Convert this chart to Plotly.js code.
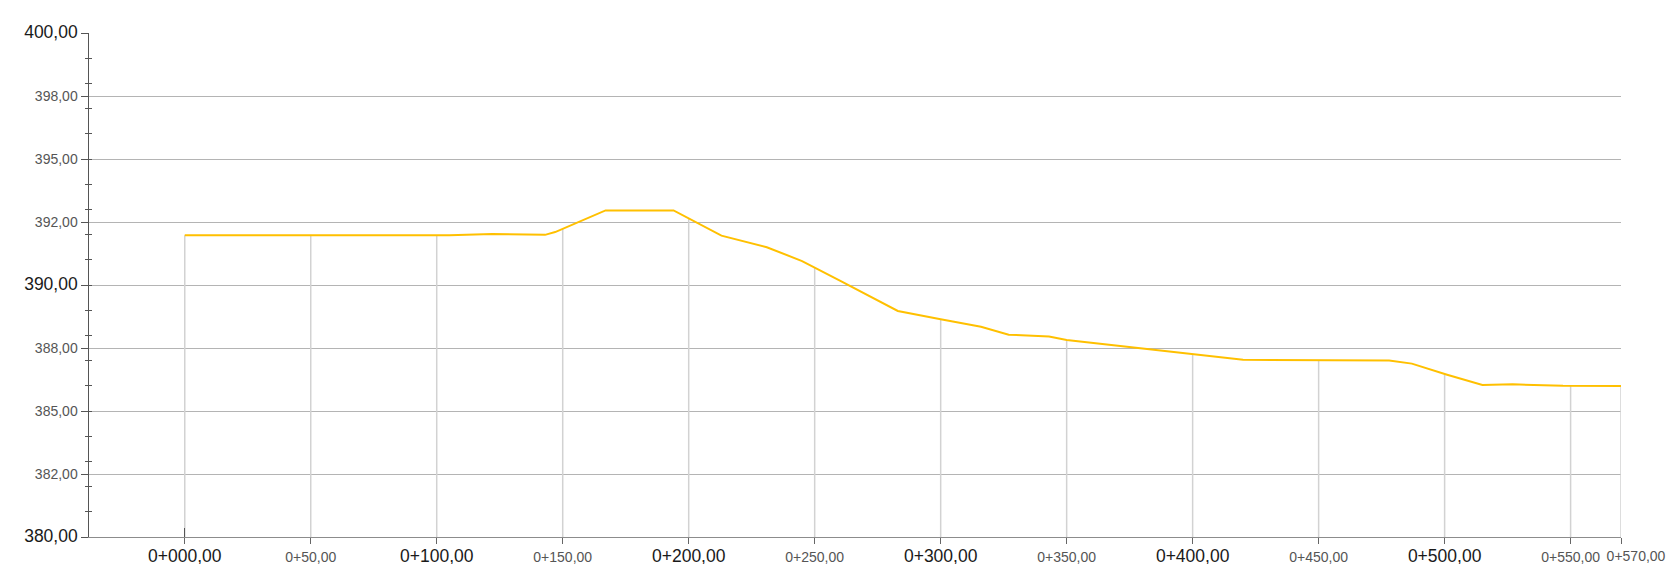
<!DOCTYPE html>
<html>
<head>
<meta charset="utf-8">
<script src="https://cdn.plot.ly/plotly-3.0.1.min.js"></script>
<style>
html,body{margin:0;padding:0;background:#fff;}
#chart{width:1672px;height:564px;}
</style>
</head>
<body>
<div id="chart"></div>
<script>
// Profile: station (m) and elevation (m)
const stations = [0, 105, 122, 143, 147, 167, 194, 213, 231, 245, 260, 283, 300, 316, 327, 343, 350, 379, 400, 420, 478, 487, 501, 515, 527, 547, 570];
const elevations = [391.97, 391.97, 392.02, 391.99, 392.1, 392.96, 392.96, 391.96, 391.5, 390.95, 390.17, 388.97, 388.64, 388.34, 388.03, 387.96, 387.82, 387.5, 387.25, 387.03, 387.0, 386.88, 386.44, 386.03, 386.06, 386.0, 385.99];

// X ticks (chainage)
const xTickVals = [0, 50, 100, 150, 200, 250, 300, 350, 400, 450, 500, 550, 570];
const xTickLabels = ['0+000,00', '0+50,00', '0+100,00', '0+150,00', '0+200,00', '0+250,00', '0+300,00', '0+350,00', '0+400,00', '0+450,00', '0+500,00', '0+550,00', '0+570,00'];
const xMajor = [0, 100, 200, 300, 400, 500];

// Y ticks
const yTickVals = [380, 382.5, 385, 387.5, 390, 392.5, 395, 397.5, 400];
const yTickLabels = ['380,00', '382,00', '385,00', '388,00', '390,00', '392,00', '395,00', '398,00', '400,00'];
const yMajor = [380, 390, 400];

function interp(x) {
  for (let i = 0; i < stations.length - 1; i++) {
    if (x >= stations[i] && x <= stations[i + 1]) {
      const t = (x - stations[i]) / (stations[i + 1] - stations[i]);
      return elevations[i] + t * (elevations[i + 1] - elevations[i]);
    }
  }
  return elevations[elevations.length - 1];
}

const lastVal = xTickVals[xTickVals.length - 1];
const lastLabel = xTickLabels[xTickLabels.length - 1];
// small labels on the main axis (major and end labels drawn by overlay axes)
const xSmallText = xTickVals.map((v, i) => (xMajor.includes(v) || v === lastVal) ? '' : xTickLabels[i]);
const xMajorText = xMajor.map(v => xTickLabels[xTickVals.indexOf(v)]);
const big = (s) => '<span style="font-size:17.5px;color:#1a1a1a">' + s + '</span>';
const yText = yTickVals.map((v, i) => yMajor.includes(v) ? big(yTickLabels[i]) : yTickLabels[i]);

const yMin = 380, yMax = 400;
const xRange = [-38, 570];
const dropX = [], dropY = [];
xTickVals.forEach(v => { dropX.push(v, v, null); dropY.push(yMin, interp(v), null); });

const traces = [
  {x: dropX, y: dropY, mode: 'lines', line: {color: '#d2d2d2', width: 1.5}, hoverinfo: 'skip', showlegend: false},
  {x: stations, y: elevations, mode: 'lines', line: {color: '#FFC000', width: 2}, showlegend: false},
  {x: [null], y: [null], xaxis: 'x2', yaxis: 'y2', mode: 'lines', hoverinfo: 'skip', showlegend: false},
  {x: [null], y: [null], xaxis: 'x3', yaxis: 'y', mode: 'lines', hoverinfo: 'skip', showlegend: false}
];

const layout = {
  width: 1672, height: 564,
  margin: {l: 89, r: 51, t: 33, b: 27, pad: 0},
  paper_bgcolor: '#ffffff', plot_bgcolor: '#ffffff',
  font: {family: '"Liberation Sans", Arial, sans-serif', color: '#555'},
  showlegend: false,
  xaxis: {
    range: xRange, showgrid: false, zeroline: false,
    showline: true, linecolor: '#8c8c8c', linewidth: 1,
    ticks: 'outside', ticklen: 6, tickcolor: '#666', tickwidth: 1,
    tickmode: 'array', tickvals: xTickVals, ticktext: xSmallText,
    tickfont: {size: 14, color: '#555'}, tickangle: 0, ticklabelstandoff: 1
  },
  xaxis3: {
    overlaying: 'x', anchor: 'y', side: 'bottom', range: xRange,
    showgrid: false, zeroline: false, showline: false,
    ticks: '', tickmode: 'array', tickvals: xMajor, ticktext: xMajorText,
    tickfont: {size: 17.5, color: '#1a1a1a'}, tickangle: 0, ticklabelstandoff: 6
  },
  yaxis: {
    range: [yMin, yMax], zeroline: false,
    showgrid: true, gridcolor: '#b4b4b4', gridwidth: 1,
    showline: true, linecolor: '#555', linewidth: 1.5,
    ticks: 'outside', ticklen: 7, tickcolor: '#555', tickwidth: 1,
    tickmode: 'array', tickvals: yTickVals, ticktext: yText,
    tickfont: {size: 14, color: '#555'},
    minor: {ticks: 'outside', ticklen: 3, tickmode: 'linear', tick0: 380, dtick: 1, tickcolor: '#555', tickwidth: 1, showgrid: false}
  },
  xaxis2: {
    overlaying: 'x', anchor: 'y2', side: 'bottom', range: xRange,
    showgrid: false, zeroline: false, showline: false,
    ticks: 'inside', ticklen: 9, tickcolor: '#555', tickwidth: 1,
    tickmode: 'array', tickvals: [0, lastVal], ticktext: ['', lastLabel],
    tickfont: {size: 14, color: '#555'}, tickangle: 0,
    ticklabelshift: 15, ticklabelstandoff: 9
  },
  yaxis2: {
    overlaying: 'y', anchor: 'x2', side: 'left', range: [yMin, yMax],
    showgrid: false, zeroline: false, showline: false, showticklabels: false,
    ticks: 'inside', ticklen: 3, tickcolor: '#555', tickwidth: 1,
    tickmode: 'linear', tick0: 380, dtick: 1
  }
};

Plotly.newPlot('chart', traces, layout, {displayModeBar: false, staticPlot: true});
</script>
</body>
</html>
